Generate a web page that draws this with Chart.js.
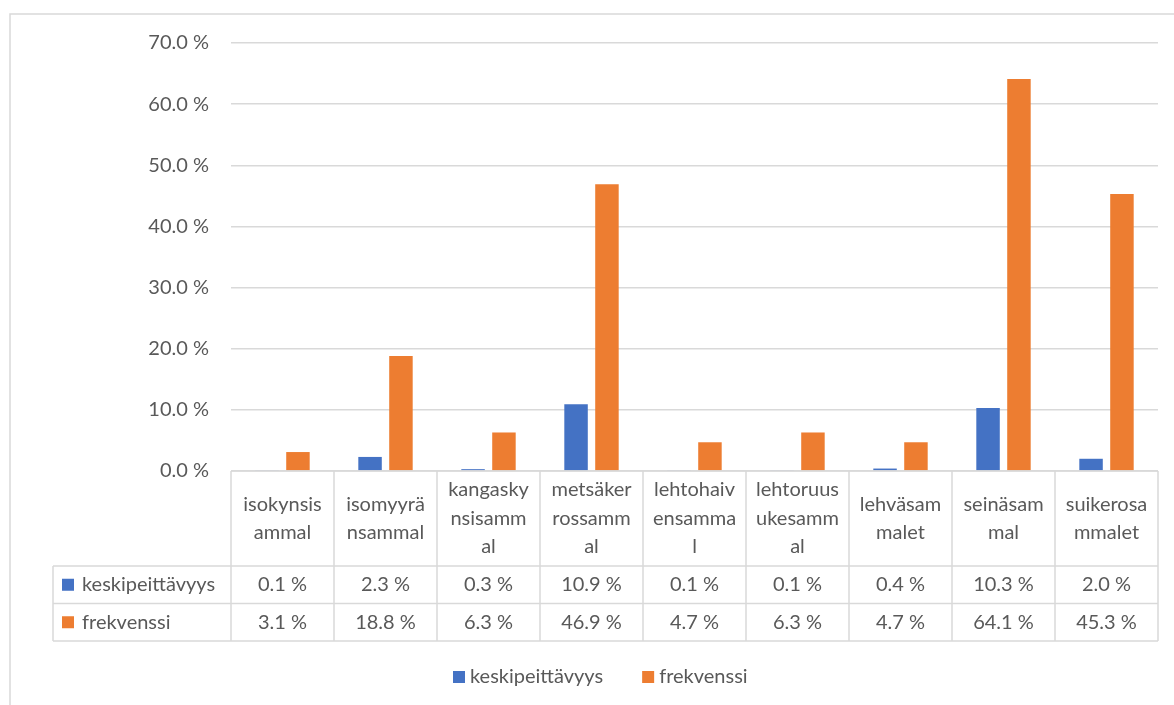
<!DOCTYPE html>
<html>
<head>
<meta charset="utf-8">
<script src="https://cdn.jsdelivr.net/npm/chart.js@4.4.0/dist/chart.umd.min.js"></script>
<style>
  body { margin: 0; background: #fff; }
  canvas { display: block; }
</style>
</head>
<body>
<canvas id="chart" width="1174" height="705"></canvas>
<script>
// categories, shown wrapped as in the Excel data table
var categoryLines = [
  ["isokynsis", "ammal"],
  ["isomyyrä", "nsammal"],
  ["kangasky", "nsisamm", "al"],
  ["metsäker", "rossamm", "al"],
  ["lehtohaiv", "ensamma", "l"],
  ["lehtoruus", "ukesamm", "al"],
  ["lehväsam", "malet"],
  ["seinäsam", "mal"],
  ["suikerosa", "mmalet"]
];
var categories = categoryLines.map(function (l) { return l.join(""); });
var seriesNames = ["keskipeittävyys", "frekvenssi"];
var coverValues = [0.1, 2.3, 0.3, 10.9, 0.1, 0.1, 0.4, 10.3, 2.0];
var freqValues = [3.1, 18.8, 6.3, 46.9, 4.7, 6.3, 4.7, 64.1, 45.3];
var seriesColors = ["#4472C4", "#ED7D31"];

var FONT = "Lato, 'Open Sans', sans-serif";
var FSIZE = 20;
var TEXT = "#595959";
var LINE = "#d9d9d9";

function fmt(v) { return v.toFixed(1) + " %"; }

var tablePlugin = {
  id: "dataTable",
  afterDraw: function (chart) {
    var ctx = chart.ctx;
    var area = chart.chartArea;
    var n = categories.length;
    var colW = (area.right - area.left) / n;
    var top = area.bottom;
    var headBottom = top + 95;
    var rowH = 37.5;
    var r1 = headBottom + rowH;
    var r2 = r1 + rowH;
    var leftEdge = 53;
    var datasets = chart.data.datasets;

    ctx.save();
    // outer chart frame
    ctx.strokeStyle = LINE;
    ctx.lineWidth = 1.5;
    ctx.beginPath();
    ctx.moveTo(10, 705);
    ctx.lineTo(10, 14);
    ctx.lineTo(1174, 14);
    ctx.stroke();

    // table grid
    ctx.beginPath();
    ctx.moveTo(area.left, top); ctx.lineTo(area.right, top);
    [headBottom, r1, r2].forEach(function (y) {
      ctx.moveTo(leftEdge, y); ctx.lineTo(area.right, y);
    });
    for (var i = 0; i <= n; i++) {
      var x = area.left + i * colW;
      ctx.moveTo(x, top); ctx.lineTo(x, r2);
    }
    ctx.moveTo(leftEdge, headBottom); ctx.lineTo(leftEdge, r2);
    ctx.stroke();

    ctx.fillStyle = TEXT;
    ctx.font = FSIZE + "px " + FONT;
    ctx.textAlign = "center";
    ctx.textBaseline = "middle";
    var lh = 28.5;
    var midHead = (top + headBottom) / 2;
    categoryLines.forEach(function (lines, i) {
      var cx = chart.scales.x.getPixelForValue(i);
      var y0 = midHead - (lines.length - 1) * lh / 2;
      lines.forEach(function (t, k) { ctx.fillText(t, cx, y0 + k * lh); });
      ctx.fillText(fmt(datasets[0].data[i]), cx, headBottom + rowH / 2);
      ctx.fillText(fmt(datasets[1].data[i]), cx, r1 + rowH / 2);
    });

    // row headers with colour keys
    ctx.textAlign = "left";
    [headBottom, r1].forEach(function (y, k) {
      var cy = y + rowH / 2;
      ctx.fillStyle = datasets[k].backgroundColor;
      ctx.fillRect(62, cy - 6, 12, 12);
      ctx.fillStyle = TEXT;
      ctx.fillText(datasets[k].label, 82, cy);
    });

    // legend
    var ly = 677;
    var lx = 453;
    datasets.forEach(function (ds) {
      ctx.fillStyle = ds.backgroundColor;
      ctx.fillRect(lx, ly - 6, 12, 12);
      ctx.fillStyle = TEXT;
      ctx.fillText(ds.label, lx + 17, ly);
      lx += 17 + ctx.measureText(ds.label).width + 39;
    });
    ctx.restore();
  }
};

new Chart(document.getElementById("chart").getContext("2d"), {
  type: "bar",
  data: {
    labels: categories,
    datasets: [
      { label: seriesNames[0], data: coverValues, backgroundColor: seriesColors[0] },
      { label: seriesNames[1], data: freqValues, backgroundColor: seriesColors[1] }
    ]
  },
  options: {
    responsive: false,
    animation: false,
    categoryPercentage: 0.6,
    barPercentage: 0.76,
    layout: { padding: { top: 43, right: 16, left: 0, bottom: 0 } },
    scales: {
      x: {
        grid: { display: false },
        border: { display: false },
        ticks: { display: false },
        afterFit: function (s) { s.height = 234; }
      },
      y: {
        min: 0,
        max: 70,
        ticks: {
          stepSize: 10,
          padding: 22,
          color: TEXT,
          font: { family: FONT, size: FSIZE },
          callback: function (v) { return fmt(v); }
        },
        grid: { color: LINE, lineWidth: 1.5, drawTicks: false },
        border: { display: false },
        afterFit: function (s) { s.width = 231; }
      }
    },
    plugins: {
      legend: { display: false },
      tooltip: { enabled: false }
    }
  },
  plugins: [tablePlugin]
});
</script>
</body>
</html>
